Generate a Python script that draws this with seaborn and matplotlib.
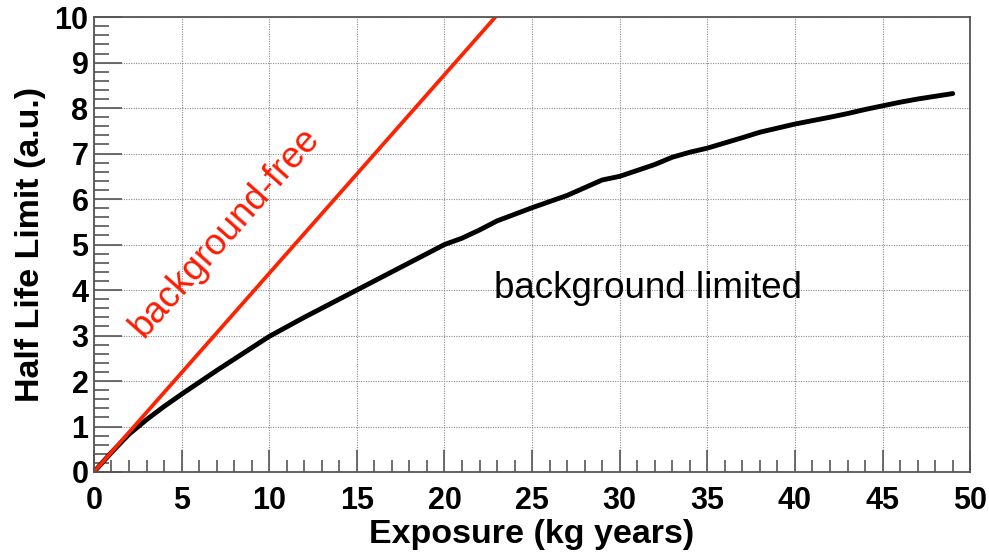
import matplotlib
matplotlib.use("Agg")
import matplotlib.pyplot as plt
import seaborn as sns
import pandas as pd
from matplotlib.ticker import MultipleLocator

# Data
free_x = [0, 22.9]
free_y = [0, 10.0]

limited_x = [0, 1, 2, 3, 4, 5, 6, 7, 8, 9, 10, 12, 13, 15, 17, 18, 20, 21, 22, 23, 25,
             27, 28, 29, 30, 32, 33, 34, 35, 37, 38, 40, 42, 43, 44, 45, 46, 47, 48, 49]
limited_y = [0, 0.43, 0.83, 1.15, 1.44, 1.71, 1.97, 2.23, 2.48, 2.73, 2.98, 3.4, 3.6,
             4.0, 4.4, 4.6, 5.0, 5.14, 5.32, 5.52, 5.81, 6.08, 6.25, 6.42, 6.5, 6.76, 6.92, 7.03,
             7.12, 7.35, 7.47, 7.65, 7.8, 7.88, 7.97, 8.05, 8.13, 8.2, 8.26, 8.32]

x_ticks = [0, 5, 10, 15, 20, 25, 30, 35, 40, 45, 50]
y_ticks = [0, 1, 2, 3, 4, 5, 6, 7, 8, 9, 10]

sns.set_style("white")
plt.rcParams['font.family'] = ['Liberation Sans', 'DejaVu Sans']

fig = plt.figure(figsize=(9.89, 5.53), dpi=100)
ax = fig.add_axes([0.095, 0.1465, 0.886, 0.8225])

df_free = pd.DataFrame({"x": free_x, "y": free_y})
df_lim = pd.DataFrame({"x": limited_x, "y": limited_y})

sns.lineplot(data=df_lim, x="x", y="y", ax=ax, color="black", linewidth=3.5,
             estimator=None, sort=False)
sns.lineplot(data=df_free, x="x", y="y", ax=ax, color="#ff2200", linewidth=2.7,
             estimator=None, sort=False)

ax.set_xlim(0, 50)
ax.set_ylim(0, 10)
ax.set_xticks(x_ticks)
ax.set_yticks(y_ticks)
ax.xaxis.set_minor_locator(MultipleLocator(1))
ax.yaxis.set_minor_locator(MultipleLocator(0.2))

ax.grid(True, which="major", linestyle=(0, (1, 1.2)), color="#8a8a8a", linewidth=0.8)
ax.set_axisbelow(True)

for s in ax.spines.values():
    s.set_color("#555555")
    s.set_linewidth(1.3)

ax.tick_params(axis="both", which="both", bottom=True, left=True, top=False, right=False)
ax.tick_params(axis="both", which="major", direction="in", length=16, width=1.2,
               color="#555555", labelsize=22, labelcolor="black")
ax.tick_params(axis="both", which="minor", direction="in", length=9, width=1.2,
               color="#555555")
ax.tick_params(axis="y", which="major", length=20, pad=4)
ax.tick_params(axis="y", which="minor", length=11)
ax.tick_params(axis="x", which="major", pad=10)
for lab in ax.get_xticklabels() + ax.get_yticklabels():
    lab.set_fontweight("bold")

ax.set_xlabel("Exposure (kg years)", fontsize=24.5, fontweight="bold", labelpad=2,
              color="black")
ax.set_ylabel("Half Life Limit (a.u.)", fontsize=24.5, fontweight="bold", labelpad=6,
              color="black")

ax.text(7.5, 5.27, "background-free", color="#ff1a00", fontsize=26.5,
        rotation=48.5, ha="center", va="center", rotation_mode="anchor")
ax.text(31.6, 4.04, "background limited", color="black", fontsize=26.5,
        ha="center", va="center")

fig.savefig("out.png", dpi=100)
